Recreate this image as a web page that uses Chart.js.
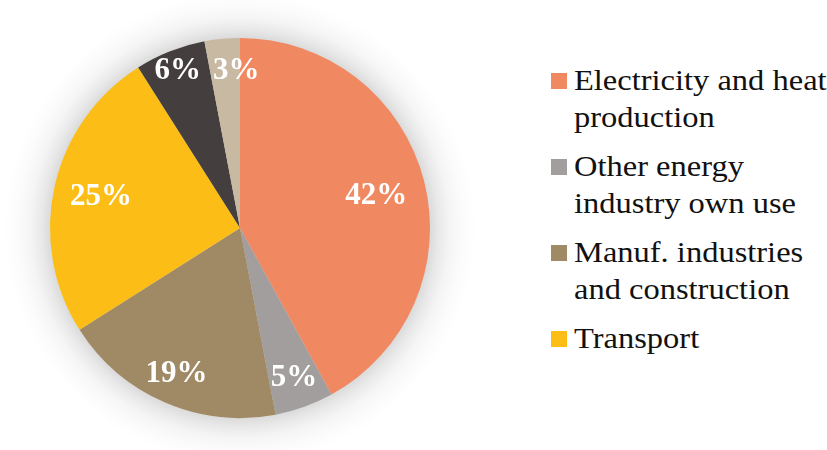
<!DOCTYPE html>
<html>
<head>
<meta charset="utf-8">
<script src="https://cdn.jsdelivr.net/npm/chart.js@4/dist/chart.umd.min.js"></script>
<style>
  html, body { margin: 0; padding: 0; background: #fff; }
  #wrap { position: relative; width: 827px; height: 450px; overflow: hidden; background: #fff; }
  #pie { position: absolute; left: 0; top: 0; }
  #legend { position: absolute; left: 551px; top: 63px; font-family: 'Liberation Serif', 'Tinos', 'DejaVu Serif', serif; font-size: 28.5px; line-height: 36.5px; color: #111; }
  .item { display: flex; align-items: flex-start; margin-bottom: 13px; }
  .box { width: 16px; height: 16px; margin-top: 10px; margin-right: 7px; flex: none; }
  .txt { transform: scaleX(1.14); transform-origin: 0 0; white-space: nowrap; }
</style>
</head>
<body>
<div id="wrap">
  <canvas id="pie" width="480" height="450"></canvas>
  <div id="legend"></div>
</div>
<script>
// CO2 emissions by sector, share in percent
const sectors = [
  ["Electricity and heat", "production"],
  ["Other energy", "industry own use"],
  ["Manuf. industries", "and construction"],
  ["Transport"],
  ["Other sectors"],
  ["Other"]
];
const shares = [42, 5, 19, 25, 6, 3];
const sliceColors = ["#F08962", "#A19E9D", "#A08A65", "#FBBD16", "#443F3E", "#C7B9A2"];
const legendCount = 4;

// where each percentage label sits along its slice's mid-angle
const labelRadius = [0.74, 0.84, 0.84, 0.75, 0.89, 0.83];
const labelShiftX = [0, 0, 0, 0, 0, 11];
const labelShiftY = [3, 0, 0, 0, 0, 0];

const serifStack = "'Liberation Serif', 'Tinos', 'DejaVu Serif', serif";

// soft grey halo fading out around the pie
const haloPlugin = {
  id: 'halo',
  beforeDatasetsDraw(chart) {
    const arc = chart.getDatasetMeta(0).data[0];
    if (!arc) return;
    const ctx = chart.ctx;
    const r0 = arc.outerRadius - 1;
    const r1 = arc.outerRadius + 46;
    const g = ctx.createRadialGradient(arc.x, arc.y, r0, arc.x, arc.y, r1);
    g.addColorStop(0, 'rgba(0,0,0,0.15)');
    g.addColorStop(0.2, 'rgba(0,0,0,0.09)');
    g.addColorStop(0.45, 'rgba(0,0,0,0.04)');
    g.addColorStop(0.75, 'rgba(0,0,0,0.012)');
    g.addColorStop(1, 'rgba(0,0,0,0)');
    ctx.save();
    ctx.fillStyle = g;
    ctx.beginPath();
    ctx.arc(arc.x, arc.y, r1, 0, Math.PI * 2);
    ctx.fill();
    ctx.restore();
  }
};

// white percentage labels inside the slices
const valueLabels = {
  id: 'valueLabels',
  afterDatasetsDraw(chart) {
    const ctx = chart.ctx;
    const meta = chart.getDatasetMeta(0);
    const data = chart.data.datasets[0].data;
    ctx.save();
    ctx.fillStyle = '#ffffff';
    ctx.font = 'bold 31px ' + serifStack;
    ctx.textAlign = 'center';
    ctx.textBaseline = 'middle';
    meta.data.forEach((arc, i) => {
      const mid = (arc.startAngle + arc.endAngle) / 2;
      const r = arc.outerRadius * labelRadius[i];
      const x = arc.x + Math.cos(mid) * r + labelShiftX[i];
      const y = arc.y + Math.sin(mid) * r + labelShiftY[i];
      ctx.fillText(data[i] + '%', x, y);
    });
    ctx.restore();
  }
};

const chart = new Chart(document.getElementById('pie'), {
  type: 'pie',
  data: {
    labels: sectors.map(s => s.join(' ')),
    datasets: [{
      data: shares,
      backgroundColor: sliceColors,
      borderWidth: 0
    }]
  },
  options: {
    responsive: false,
    animation: false,
    devicePixelRatio: 1,
    layout: { padding: { left: 50, right: 50, top: 38, bottom: 32 } },
    plugins: {
      legend: { display: false },
      tooltip: { enabled: false }
    }
  },
  plugins: [haloPlugin, valueLabels]
});

// redraw once the serif face is ready so the labels pick it up
if (document.fonts && document.fonts.load) {
  document.fonts.load("bold 31px 'Liberation Serif'").then(() => chart.draw()).catch(() => {});
  document.fonts.load("28.5px 'Liberation Serif'").catch(() => {});
}

// legend listing the main sectors
const legend = document.getElementById('legend');
for (let i = 0; i < legendCount; i++) {
  const item = document.createElement('div');
  item.className = 'item';
  const box = document.createElement('div');
  box.className = 'box';
  box.style.background = sliceColors[i];
  const text = document.createElement('div');
  text.className = 'txt';
  sectors[i].forEach((line, k) => {
    if (k > 0) text.appendChild(document.createElement('br'));
    text.appendChild(document.createTextNode(line));
  });
  item.appendChild(box);
  item.appendChild(text);
  legend.appendChild(item);
}
</script>
</body>
</html>
